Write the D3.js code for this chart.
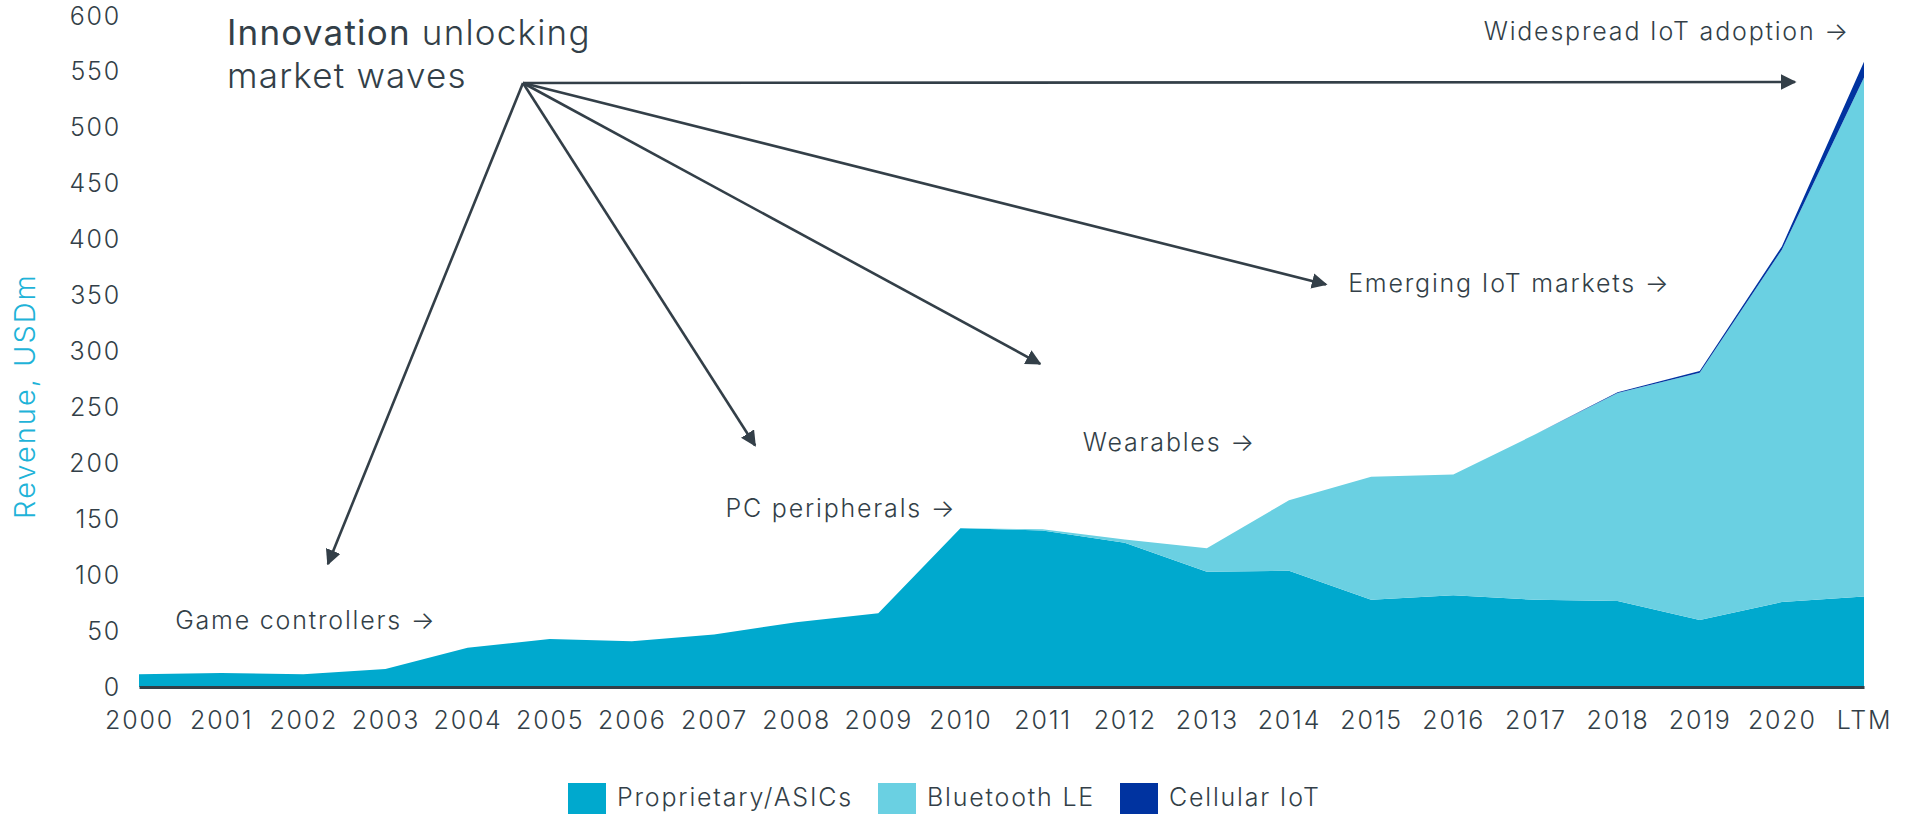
<!DOCTYPE html>
<html>
<head>
<meta charset="utf-8">
<script src="https://cdn.jsdelivr.net/npm/d3@7"></script>
<style>
  body { margin: 0; background: #fff; }
  svg { display: block; font-family: Inter, Lato, sans-serif; font-weight: 300; }
  svg text { letter-spacing: 1.8px; }
</style>
</head>
<body>
<svg></svg>
<script>
const years = ['2000', '2001', '2002', '2003', '2004', '2005', '2006', '2007', '2008', '2009',
  '2010', '2011', '2012', '2013', '2014', '2015', '2016', '2017', '2018', '2019', '2020', 'LTM'];
const proprietary = [11.5, 12.5, 11.5, 16, 35, 43, 41, 47, 58, 66, 142, 140, 129, 103, 104, 78, 82, 78, 77, 60, 76, 81];
const bluetooth = [0, 0, 0, 0, 0, 0, 0, 0, 0, 0, 0, 1, 3, 21, 63, 110, 108, 148, 186, 221, 315, 464];
const cellular = [0, 0, 0, 0, 0, 0, 0, 0, 0, 0, 0, 0, 0, 0, 0, 0, 0, 0, 0.5, 1.5, 3, 14];
const seriesNames = ['Proprietary/ASICs', 'Bluetooth LE', 'Cellular IoT'];
const seriesColors = ['#00a9ce', '#6ad0e2', '#0033a0'];
const yTicks = [0, 50, 100, 150, 200, 250, 300, 350, 400, 450, 500, 550, 600];

// annotation arrows: where each arrow points and where its label sits, as [year index, value]
const waves = [
  { text: 'Game controllers \u2192', tip: [2.3, 110], label: [0.44, 60] },
  { text: 'PC peripherals \u2192', tip: [7.5, 216], label: [7.14, 160] },
  { text: 'Wearables \u2192', tip: [10.97, 289], label: [11.49, 219] },
  { text: 'Emerging IoT markets \u2192', tip: [14.45, 360], label: [14.72, 361] },
  { text: 'Widespread IoT adoption \u2192', tip: [20.16, 541], label: [16.37, 586] }
];

const w = 1913;
const h = 814;
const svg = d3.select('svg').attr('width', w).attr('height', h);
const ink = '#333f48';

const x = d3.scalePoint().domain(years).range([139, 1864]);
const xf = d3.scaleLinear().domain([0, years.length - 1]).range([139, 1864]);
const y = d3.scaleLinear().domain([0, 600]).range([687, 16]);

const table = years.map((yr, i) => ({
  year: yr,
  'Proprietary/ASICs': proprietary[i],
  'Bluetooth LE': bluetooth[i],
  'Cellular IoT': cellular[i]
}));
const stacked = d3.stack().keys(seriesNames)(table);

const area = d3.area()
  .x((d) => x(d.data.year))
  .y0((d) => y(d[0]))
  .y1((d) => y(d[1]));

svg.append('g')
  .selectAll('path')
  .data(stacked)
  .enter()
  .append('path')
  .attr('d', area)
  .attr('fill', (d, i) => seriesColors[i]);

// y axis: labels only
const yAxis = d3.axisLeft(y).tickValues(yTicks).tickSize(0).tickPadding(18);
const gy = svg.append('g').attr('transform', `translate(${x('2000')},0)`).call(yAxis);
gy.select('.domain').remove();
gy.selectAll('text').attr('font-size', 25).attr('fill', ink)
  .style('font-family', 'Inter, sans-serif').style('font-weight', 300);

// x axis
const xAxis = d3.axisBottom(x).tickSize(0).tickPadding(24);
const gx = svg.append('g').attr('transform', `translate(0,${y(0)})`).call(xAxis);
gx.select('.domain').attr('stroke', ink).attr('stroke-width', 3);
gx.selectAll('text').attr('font-size', 25).attr('fill', ink)
  .style('font-family', 'Inter, sans-serif').style('font-weight', 300);

svg.append('text')
  .attr('transform', 'translate(35,396) rotate(-90)')
  .attr('text-anchor', 'middle')
  .attr('font-size', 29)
  .style('letter-spacing', '2px')
  .attr('fill', '#1fb3d8')
  .text('Revenue, USDm');

// title
const title = svg.append('text').attr('x', 227).attr('y', 45).attr('font-size', 35)
  .style('letter-spacing', '1.2px').attr('fill', ink);
title.append('tspan').attr('font-weight', 400).text('Innovation');
title.append('tspan').attr('font-weight', 300).text(' unlocking');
svg.append('text').attr('x', 227).attr('y', 88).attr('font-size', 35)
  .style('letter-spacing', '1.2px').attr('fill', ink).text('market waves');

// arrows
svg.append('defs').append('marker')
  .attr('id', 'head')
  .attr('viewBox', '0 0 10 10')
  .attr('refX', 9).attr('refY', 5)
  .attr('markerWidth', 6).attr('markerHeight', 6)
  .attr('orient', 'auto')
  .append('path')
  .attr('d', 'M0,0 L10,5 L0,10 Z')
  .attr('fill', ink);

const origin = [523, 83];
svg.append('g')
  .selectAll('line')
  .data(waves)
  .enter()
  .append('line')
  .attr('x1', origin[0]).attr('y1', origin[1])
  .attr('x2', (d) => xf(d.tip[0]))
  .attr('y2', (d) => y(d.tip[1]))
  .attr('stroke', ink)
  .attr('stroke-width', 2.6)
  .attr('marker-end', 'url(#head)');

svg.append('g')
  .selectAll('text')
  .data(waves)
  .enter()
  .append('text')
  .attr('x', (d) => xf(d.label[0]))
  .attr('y', (d) => y(d.label[1]))
  .attr('dy', '0.35em')
  .attr('font-size', 25)
  .attr('fill', ink)
  .text((d) => d.text);

// legend
const legendX = [568, 878, 1120];
const lg = svg.append('g')
  .selectAll('g')
  .data(seriesNames)
  .enter()
  .append('g')
  .attr('transform', (d, i) => `translate(${legendX[i]},783)`);
lg.append('rect').attr('width', 38).attr('height', 38).attr('fill', (d, i) => seriesColors[i]);
lg.append('text')
  .attr('x', 49).attr('y', 14).attr('dy', '0.35em')
  .attr('font-size', 25).attr('fill', ink)
  .text((d) => d);
</script>
</body>
</html>
